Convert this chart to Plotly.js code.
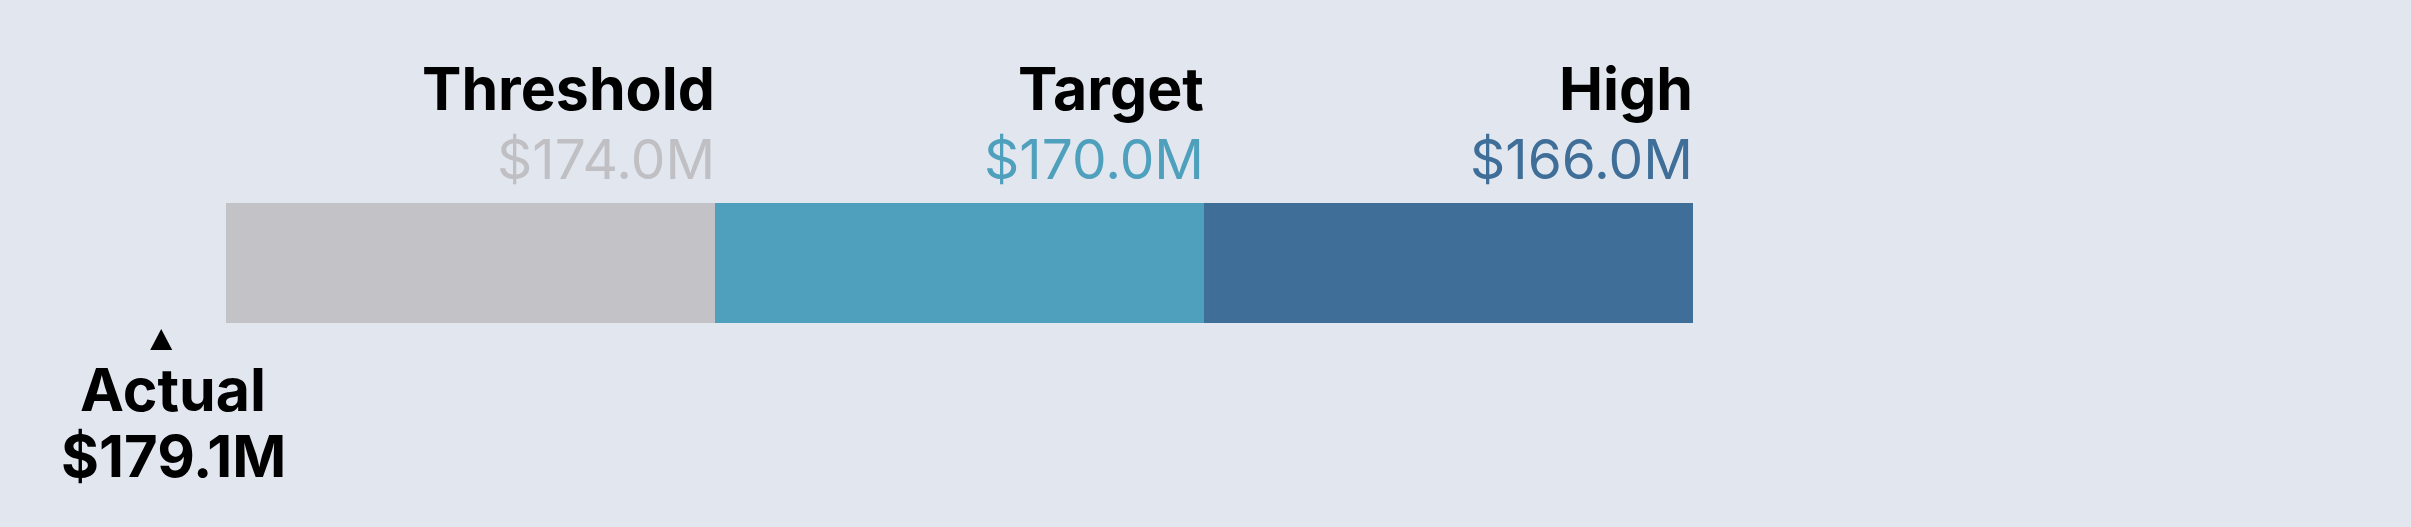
<!DOCTYPE html>
<html>
<head>
<meta charset="utf-8">
<script src="https://cdn.plot.ly/plotly-3.0.1.min.js"></script>
<style>
  html, body { margin: 0; padding: 0; background: #e2e7ef; }
  #chart { width: 2411px; height: 527px; }
</style>
</head>
<body>
<div id="chart"></div>
<script>
// ---- data ----
const levelNames = ['Threshold', 'Target', 'High'];
const levelValues = [174.0, 170.0, 166.0];   // $M
const scaleStart = 178.0;                     // $M, left end of the scale
const actualName = 'Actual';
const actualValue = 179.1;                    // $M

// ---- styles ----
const levelColors = ['#c2c2c7', '#4fa0bc', '#3f6e98'];
const valueTextColors = ['#c0c0c4', '#4fa0bc', '#3f6e98'];
const bg = '#e2e7ef';
const FONT = 'Inter, "Open Sans", sans-serif';

const fmt = v => '$' + v.toFixed(1) + 'M';

// bar bases: each segment starts where previous ends
const bases = levelValues.map((v, i) => i === 0 ? scaleStart : levelValues[i - 1]);
const widths = levelValues.map((v, i) => v - bases[i]);

// actual marker: clamped just beyond the start of the scale when off-scale
const overflowOffset = 0.53;
const actualPos = actualValue > scaleStart ? scaleStart + overflowOffset : actualValue;

const traces = levelNames.map((name, i) => ({
  type: 'bar',
  orientation: 'h',
  name: name,
  y: [-263],
  x: [widths[i]],
  base: [bases[i]],
  width: 120,
  marker: { color: levelColors[i], line: { width: 0 } },
  hoverinfo: 'skip',
  showlegend: false
}));

const annotations = [];
levelNames.forEach((name, i) => {
  annotations.push({
    xref: 'x', yref: 'y', x: levelValues[i], y: -88,
    xanchor: 'right', yanchor: 'middle', showarrow: false,
    text: name, xshift: 2,
    font: { family: FONT, size: 59, color: '#000000', weight: 700 }
  });
  annotations.push({
    xref: 'x', yref: 'y', x: levelValues[i], y: -159,
    xanchor: 'right', yanchor: 'middle', showarrow: false,
    text: fmt(levelValues[i]), xshift: 2,
    font: { family: FONT, size: 55, color: valueTextColors[i], weight: 400 }
  });
});
annotations.push({
  xref: 'x', yref: 'y', x: actualPos, y: -389,
  xanchor: 'center', yanchor: 'middle', showarrow: false,
  text: actualName, xshift: 12,
  font: { family: FONT, size: 59, color: '#000000', weight: 700 }
});
annotations.push({
  xref: 'x', yref: 'y', x: actualPos, y: -456,
  xanchor: 'center', yanchor: 'middle', showarrow: false,
  text: fmt(actualValue), xshift: 12,
  font: { family: FONT, size: 58, color: '#000000', weight: 700 }
});

const layout = {
  width: 2411, height: 527, autosize: false,
  margin: { l: 0, r: 0, t: 0, b: 0, pad: 0 },
  paper_bgcolor: bg, plot_bgcolor: bg,
  barmode: 'overlay',
  xaxis: {
    range: [scaleStart + 226 / 122.25, scaleStart - (2411 - 226) / 122.25],
    visible: false, fixedrange: true
  },
  yaxis: { range: [-527, 0], visible: false, fixedrange: true },
  annotations: annotations,
  shapes: [{
    type: 'path',
    xref: 'x', yref: 'y',
    xsizemode: 'pixel', ysizemode: 'pixel',
    xanchor: actualPos, yanchor: -350,
    path: 'M-11,0 L11,0 L0,21 Z',
    fillcolor: '#000000', line: { width: 0 }
  }]
};

Plotly.newPlot('chart', traces, layout, { displayModeBar: false, staticPlot: true });
</script>
</body>
</html>
